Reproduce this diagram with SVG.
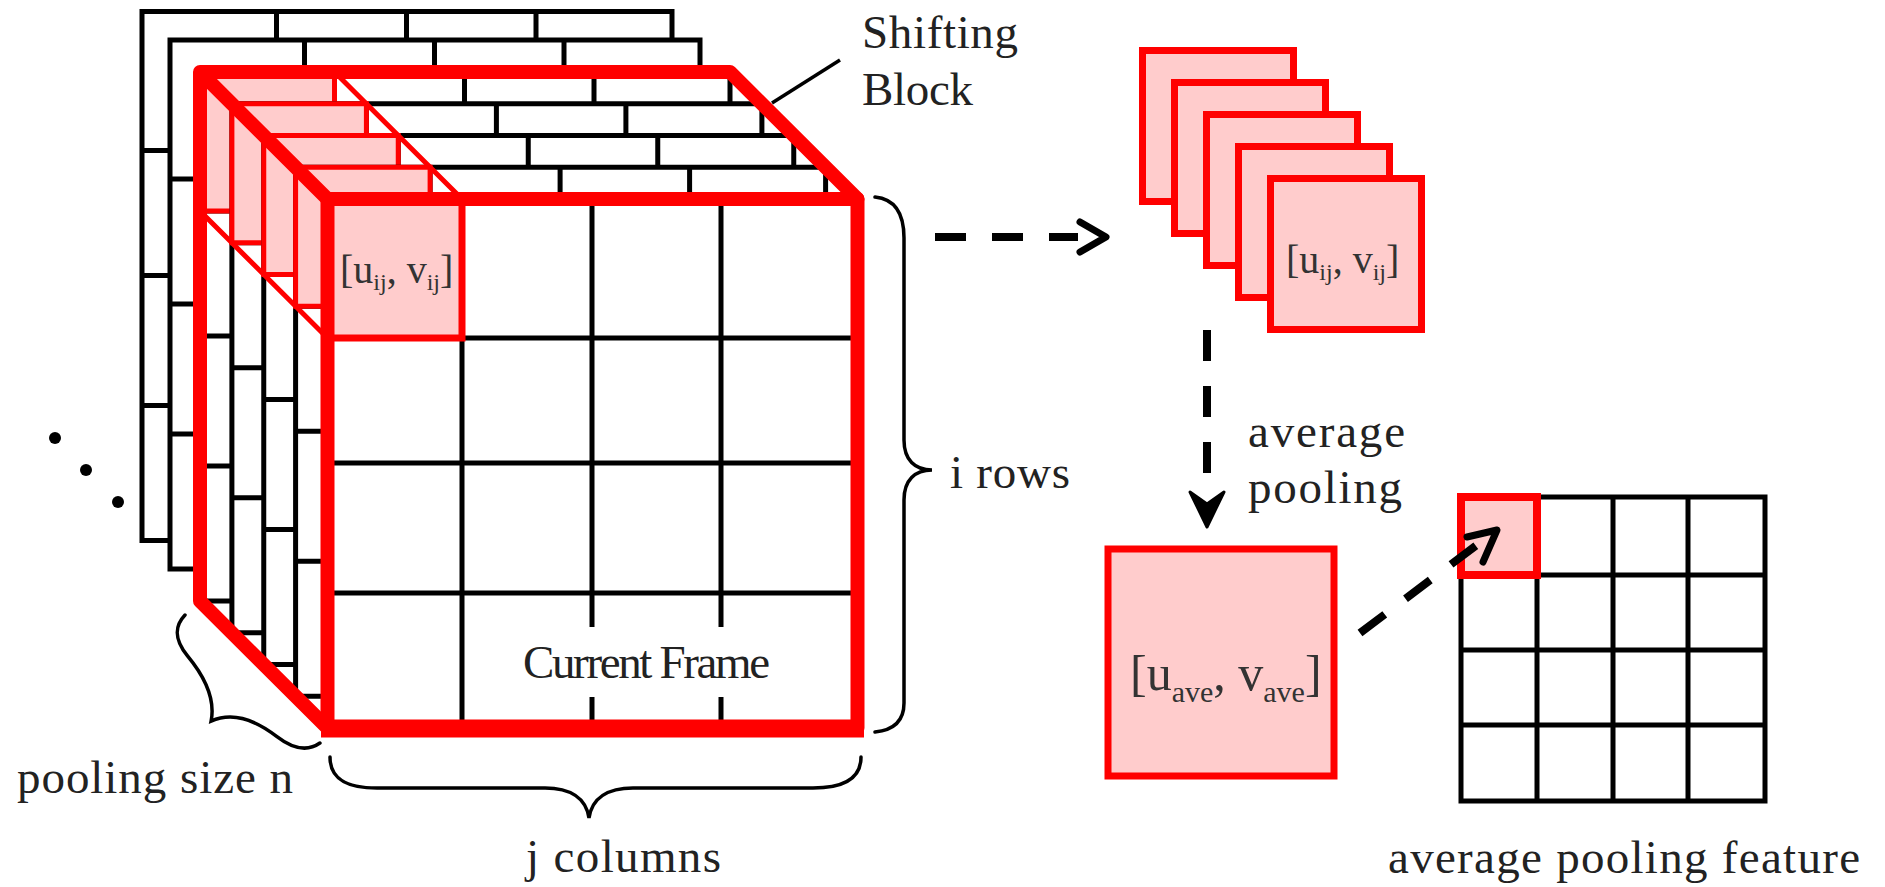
<svg xmlns="http://www.w3.org/2000/svg" width="1885" height="887" viewBox="0 0 1885 887">
<style>
.fr{fill:#fff;stroke:#000;stroke-width:5}
.grid{fill:none;stroke:#000;stroke-width:5}
.cell{fill:#ffcccc;stroke:#ff0000;stroke-width:5}
.thick{fill:none;stroke:#ff0000;stroke-width:14;stroke-linejoin:round;stroke-linecap:round}
.thin{fill:none;stroke:#ff0000;stroke-width:5}
.lbl{font-family:"Liberation Serif","Times New Roman",serif;font-size:47px;fill:#222}
.mat{font-family:"Liberation Serif","Times New Roman",serif;fill:#333}
.brace{fill:none;stroke:#000;stroke-width:3.5;stroke-linecap:round}
.dash{fill:none;stroke:#000;stroke-width:8}
.head{fill:none;stroke:#000;stroke-width:7;stroke-linecap:round;stroke-linejoin:round}
.pink{fill:#ffcccc;stroke:#ff0000;stroke-width:7}
</style>
<defs>
<path id="fgrid" d="M134.5,0V529M264.5,0V529M394,0V529M0,139H530M0,264H530M0,394H530"/>
</defs>

<g id="frames">
<g id="frame-a" transform="translate(142,11.5)"><rect class="fr" width="530" height="529"/><use href="#fgrid" class="grid"/></g>
<g id="frame-b" transform="translate(170,40)"><rect class="fr" width="530" height="529"/><use href="#fgrid" class="grid"/></g>
<g id="frame-r1" transform="translate(200,72)"><rect class="fr" width="530" height="529"/><use href="#fgrid" class="grid"/><rect class="cell" width="134.5" height="139"/></g>
<g id="frame-r2" transform="translate(231.9,103.75)"><rect class="fr" width="530" height="529"/><use href="#fgrid" class="grid"/><rect class="cell" width="134.5" height="139"/></g>
<g id="frame-r3" transform="translate(263.75,135.5)"><rect class="fr" width="530" height="529"/><use href="#fgrid" class="grid"/><rect class="cell" width="134.5" height="139"/></g>
<g id="frame-r4" transform="translate(295.6,167.25)"><rect class="fr" width="530" height="529"/><use href="#fgrid" class="grid"/><rect class="cell" width="134.5" height="139"/></g>
</g>

<g id="current-frame">
<rect x="327.5" y="199" width="530" height="529" fill="#fff"/>
<path class="grid" stroke-width="5.5" d="M462,199V728M592,199V728M721,199V728M327.5,338H857.5M327.5,463H857.5M327.5,593H857.5"/>
<rect x="562" y="627" width="190" height="70" fill="#fff"/>
<rect x="327.5" y="199" width="134.5" height="139" fill="#ffcccc" stroke="#ff0000" stroke-width="7"/>
<text class="mat" x="340" y="283" font-size="40">[u<tspan font-size="24" dy="7">ij</tspan><tspan dy="-7">, v</tspan><tspan font-size="24" dy="7">ij</tspan><tspan dy="-7">]</tspan></text>
<text class="lbl" x="523" y="678" font-size="42" textLength="247">Current Frame</text>
</g>

<g id="shifting-block">
<path class="thin" d="M334.5,72L462,199M200,211L327.5,338"/>
<path class="thick" d="M200,601L200,72L730,72L857.5,199M200,72L327.5,199M200,601L327.5,728"/>
<rect class="thick" x="327.5" y="199" width="530" height="529"/>
<path d="M321,728.5H864" stroke="#ff0000" stroke-width="18"/>
</g>

<g id="dots" fill="#000">
<circle cx="55" cy="438" r="6"/>
<circle cx="86" cy="470" r="6"/>
<circle cx="118" cy="502" r="6"/>
</g>

<g id="labels">
<text class="lbl" x="862" y="48" textLength="156">Shifting</text>
<text class="lbl" x="862" y="105" textLength="111">Block</text>
<text class="lbl" x="950" y="488" textLength="120">i rows</text>
<text class="lbl" x="17" y="793" textLength="276">pooling size n</text>
<text class="lbl" x="526" y="872" textLength="195">j columns</text>
<text class="lbl" x="1248" y="447" textLength="157">average</text>
<text class="lbl" x="1248" y="503" textLength="154">pooling</text>
<text class="lbl" x="1388" y="873" textLength="472">average pooling feature</text>
</g>

<g id="braces">
<path class="brace" d="M875,197C895,199 904,214 904,238L904,440C904,460 915,470 932,470C915,470 904,480 904,500L904,703C904,720 895,730 875,732"/>
<path class="brace" d="M330,757C330,778 345,788 377,788L545,788C570,788 586,798 589,818C592,798 608,788 633,788L813,788C845,788 861,778 861,757"/>
<path class="brace" transform="translate(185,615) rotate(43.5)" d="M0,0C0,15 8,25 30,28C55,31 80,40 92,59C100,40 120,28 150,25C170,23 183,15 186,0"/>
<path d="M772,103L840,60" stroke="#000" stroke-width="3.5"/>
</g>

<g id="block-stack">
<rect class="pink" x="1142.5" y="50.5" width="151" height="151"/>
<rect class="pink" x="1174.5" y="82.5" width="151" height="151"/>
<rect class="pink" x="1206.5" y="114.5" width="151" height="151"/>
<rect class="pink" x="1238.5" y="146.5" width="151" height="151"/>
<rect class="pink" x="1270.5" y="178.5" width="151" height="151"/>
<text class="mat" x="1286" y="273" font-size="40">[u<tspan font-size="24" dy="7">ij</tspan><tspan dy="-7">, v</tspan><tspan font-size="24" dy="7">ij</tspan><tspan dy="-7">]</tspan></text>
</g>

<g id="average-block">
<rect class="pink" x="1108" y="549" width="226" height="227" stroke-width="8"/>
<text class="mat" x="1130" y="690" font-size="50">[u<tspan font-size="30" dy="12">ave</tspan><tspan dy="-12">, v</tspan><tspan font-size="30" dy="12">ave</tspan><tspan dy="-12">]</tspan></text>
</g>

<g id="feature-grid">
<rect x="1461" y="497" width="304" height="304" fill="#fff" stroke="#000" stroke-width="5"/>
<path class="grid" d="M1537,497V801M1613,497V801M1688,497V801M1461,575H1765M1461,650H1765M1461,725H1765"/>
<rect x="1461" y="497" width="76" height="78" fill="#ffcccc" stroke="#ff0000" stroke-width="8"/>
</g>

<g id="connectors">
<path class="dash" d="M935,237H1078" stroke-dasharray="31 26"/>
<path class="head" d="M1080,222L1106,237L1080,252"/>
<path class="dash" d="M1207,330V474" stroke-width="9" stroke-dasharray="31 25"/>
<path d="M1190,492L1207,527L1224,492L1207,504Z" fill="#000" stroke="#000" stroke-width="3" stroke-linejoin="round"/>
<path class="dash" d="M1360,633L1490,535" stroke-dasharray="31 26"/>
<path class="head" d="M1467,537L1497,530L1483,562"/>
</g>
</svg>
